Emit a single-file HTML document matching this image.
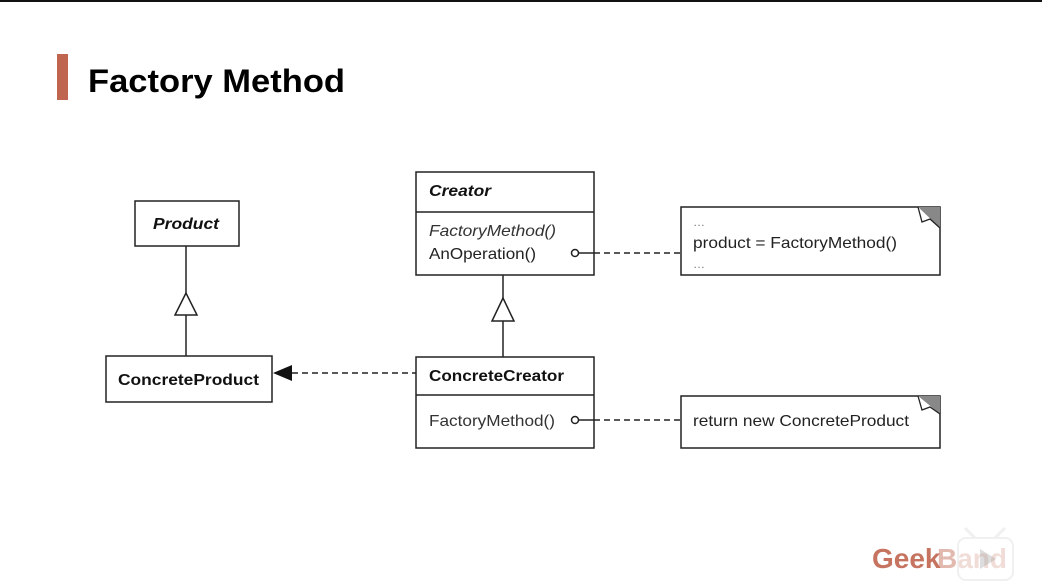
<!DOCTYPE html>
<html><head><meta charset="utf-8"><style>
html,body{margin:0;padding:0;background:#fff;}
svg{display:block;}
text{font-family:"Liberation Sans",Arial,sans-serif;}
</style></head><body>
<svg width="1042" height="587" viewBox="0 0 1042 587" xmlns="http://www.w3.org/2000/svg">
<rect x="0" y="0" width="1042" height="2" fill="#111"/>
<rect x="57" y="54" width="11" height="46" fill="#c0654f"/>
<text x="88" y="92" font-size="32" font-weight="bold" fill="#000" textLength="257" lengthAdjust="spacingAndGlyphs">Factory Method</text>

<g stroke="#222" stroke-width="1.5" fill="none">
<rect x="135" y="201" width="104" height="45" fill="#fff"/>
<line x1="186" y1="246" x2="186" y2="293"/>
<polygon points="186,293 175,315 197,315" fill="#fff"/>
<line x1="186" y1="315" x2="186" y2="356"/>
<rect x="106" y="356" width="166" height="46" fill="#fff"/>
<rect x="416" y="172" width="178" height="103" fill="#fff"/>
<line x1="416" y1="212" x2="594" y2="212"/>
<line x1="503" y1="275" x2="503" y2="298"/>
<polygon points="503,298 492,321 514,321" fill="#fff"/>
<line x1="503" y1="321" x2="503" y2="357"/>
<rect x="416" y="357" width="178" height="91" fill="#fff"/>
<line x1="416" y1="395" x2="594" y2="395"/>
<line x1="292" y1="373" x2="416" y2="373" stroke-dasharray="6,4"/>
<circle cx="575" cy="253" r="3.5" fill="#fff"/>
<line x1="579" y1="253" x2="594" y2="253"/>
<line x1="594" y1="253" x2="681" y2="253" stroke-dasharray="6,4"/>
<circle cx="575" cy="420" r="3.5" fill="#fff"/>
<line x1="579" y1="420" x2="594" y2="420"/>
<line x1="594" y1="420" x2="681" y2="420" stroke-dasharray="6,4"/>
<rect x="681" y="207" width="259" height="68" fill="#fff"/>
<rect x="681" y="396" width="259" height="52" fill="#fff"/>
</g>
<polygon points="273,373 292,365 292,381" fill="#111"/>
<polygon points="918,207 940,207 940,228" fill="#888"/>
<polyline points="918,207 922,222 930,219 940,228" fill="#fff" stroke="#222" stroke-width="1.3"/>
<polygon points="918,396 940,396 940,414" fill="#888"/>
<polyline points="918,396 922,410 930,407 940,414" fill="#fff" stroke="#222" stroke-width="1.3"/>

<g font-size="16" fill="#111">
<text x="153" y="229" font-weight="bold" font-style="italic" textLength="66" lengthAdjust="spacingAndGlyphs">Product</text>
<text x="118" y="385" font-weight="bold" textLength="141" lengthAdjust="spacingAndGlyphs">ConcreteProduct</text>
<text x="429" y="196" font-weight="bold" font-style="italic" textLength="62" lengthAdjust="spacingAndGlyphs">Creator</text>
<text x="429" y="236" font-style="italic" fill="#333" textLength="127" lengthAdjust="spacingAndGlyphs">FactoryMethod()</text>
<text x="429" y="259" fill="#222" textLength="107" lengthAdjust="spacingAndGlyphs">AnOperation()</text>
<text x="429" y="381" font-weight="bold" textLength="135" lengthAdjust="spacingAndGlyphs">ConcreteCreator</text>
<text x="429" y="426" fill="#333" textLength="126" lengthAdjust="spacingAndGlyphs">FactoryMethod()</text>
<text x="693" y="226" fill="#777" font-size="12">…</text>
<text x="693" y="248" fill="#222" textLength="204" lengthAdjust="spacingAndGlyphs">product = FactoryMethod()</text>
<text x="693" y="268" fill="#777" font-size="12">…</text>
<text x="693" y="426" fill="#222" textLength="216" lengthAdjust="spacingAndGlyphs">return new ConcreteProduct</text>
</g>

<text x="872" y="568" font-size="28" font-weight="bold" fill="#c0654f" opacity="0.9">Geek</text>
<text x="937" y="568" font-size="28" font-weight="bold" fill="#c0654f" opacity="0.45">Band</text>
<g opacity="0.85">
<rect x="958" y="538" width="55" height="42" rx="8" fill="#fff" fill-opacity="0.6" stroke="#eee" stroke-width="2"/>
<line x1="975" y1="538" x2="965" y2="528" stroke="#eee" stroke-width="3"/>
<line x1="995" y1="538" x2="1005" y2="528" stroke="#eee" stroke-width="3"/>
<polygon points="980,549 980,569 996,559" fill="#bbb" opacity="0.6"/>
</g>
</svg>
</body></html>
